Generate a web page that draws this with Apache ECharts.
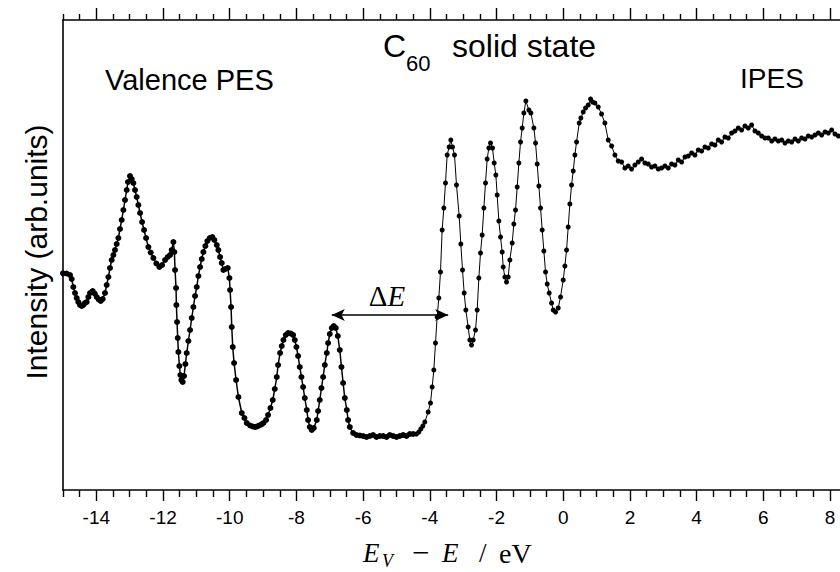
<!DOCTYPE html>
<html>
<head>
<meta charset="utf-8">
<script src="https://cdn.jsdelivr.net/npm/echarts@6/dist/echarts.min.js"></script>
<style>
html,body{margin:0;padding:0;background:#fff;}
#chart{width:840px;height:572px;}
</style>
</head>
<body>
<div id="chart"></div>
<script>
// Valence photoemission (PES) points: [E_V - E (eV), intensity (arb. units)]
const pesData = [
[-15.00,216.7],[-14.89,216.5],[-14.79,215],[-14.74,211],[-14.69,203],[-14.64,197],[-14.59,192],[-14.54,188],[-14.49,185],[-14.44,184],
[-14.39,185],[-14.34,187],[-14.29,188],[-14.24,193],[-14.19,197],[-14.11,199],[-14.05,196.5],[-13.99,193],[-13.93,190.5],[-13.87,189],
[-13.81,191],[-13.74,197],[-13.69,205],[-13.64,213],[-13.59,222],[-13.54,230],[-13.49,235],[-13.44,240],[-13.39,246],[-13.34,252],
[-13.29,261],[-13.24,270],[-13.19,280],[-13.14,290],[-13.09,300],[-13.05,308],[-12.99,314],[-12.94,311],[-12.89,307],[-12.84,300],
[-12.79,293],[-12.74,285],[-12.69,277],[-12.63,268],[-12.57,260],[-12.51,252],[-12.44,243],[-12.37,237.5],[-12.29,232],[-12.20,226.5],
[-12.11,223],[-12.03,225],[-11.94,230],[-11.86,233],[-11.79,235],[-11.74,240],[-11.69,248],[-11.66,238],[-11.64,220],[-11.61,202],
[-11.60,185],[-11.58,168],[-11.56,152],[-11.54,138],[-11.51,124],[-11.48,115],[-11.45,110],[-11.41,108],[-11.37,114],[-11.33,126],
[-11.29,137],[-11.24,149],[-11.19,160],[-11.14,172],[-11.09,183],[-11.04,194],[-10.99,203],[-10.94,214],[-10.89,223],[-10.84,231],
[-10.79,238],[-10.73,244],[-10.67,249],[-10.60,252],[-10.52,253],[-10.46,250],[-10.39,245],[-10.34,240],[-10.29,233],[-10.24,227],
[-10.19,220],[-10.13,221],[-10.06,222],[-10.01,212],[-9.99,200],[-9.96,183],[-9.94,163],[-9.91,143],[-9.87,127],[-9.81,110],
[-9.74,93],[-9.64,77],[-9.56,72],[-9.49,67],[-9.39,64.5],[-9.31,63.5],[-9.24,63],[-9.18,63.5],[-9.12,64.5],[-9.05,65.5],
[-8.99,67],[-8.91,70],[-8.85,75],[-8.78,82],[-8.71,90],[-8.65,101],[-8.59,113],[-8.55,125],[-8.49,137],[-8.44,144],
[-8.39,150],[-8.32,155],[-8.25,157],[-8.17,156.5],[-8.10,155],[-8.05,150],[-8.00,143],[-7.95,134],[-7.90,123],[-7.85,113],
[-7.80,103],[-7.75,92],[-7.69,80],[-7.65,70],[-7.60,63],[-7.54,60],[-7.48,62],[-7.39,70],[-7.35,79],[-7.30,90],
[-7.25,102],[-7.20,113],[-7.15,125],[-7.09,137],[-7.05,147],[-7.00,156],[-6.94,162],[-6.88,164],[-6.82,162],[-6.76,154],
[-6.70,140],[-6.65,123],[-6.60,107],[-6.55,92],[-6.49,80],[-6.45,70],[-6.40,63],[-6.30,57],[-6.20,55],[-6.10,54.5],
[-6.00,54],[-5.90,53],[-5.80,54],[-5.70,55],[-5.60,53],[-5.50,54],[-5.40,54],[-5.30,53],[-5.20,55],[-5.10,54],
[-5.00,53],[-4.90,54],[-4.80,55],[-4.70,54],[-4.60,56],[-4.50,56]
];

// Inverse photoemission (IPES) points: [E_V - E (eV), intensity (arb. units)]
const ipesData = [
[-4.40,56],[-4.33,58],[-4.27,61],[-4.21,64],[-4.15,68],[-4.05,78],[-3.98,87],[-3.93,103],[-3.88,120],[-3.83,147],
[-3.78,173],[-3.73,192],[-3.68,218],[-3.63,260],[-3.58,282],[-3.53,307],[-3.48,335],[-3.42,343],[-3.37,350],[-3.32,343],
[-3.26,335],[-3.20,305],[-3.12,274],[-3.07,246],[-3.02,220],[-2.97,197],[-2.92,180],[-2.85,163],[-2.80,150],[-2.75,145],
[-2.70,150],[-2.63,160],[-2.58,180],[-2.53,212],[-2.48,237],[-2.43,255],[-2.38,282],[-2.33,307],[-2.28,331],[-2.23,342],
[-2.18,347],[-2.12,342],[-2.07,327],[-2.02,315],[-1.98,295],[-1.93,269],[-1.88,253],[-1.83,238],[-1.80,223],[-1.75,213],
[-1.70,208],[-1.65,213],[-1.60,230],[-1.53,247],[-1.48,266],[-1.43,280],[-1.38,303],[-1.33,327],[-1.28,348],[-1.23,362],
[-1.18,377],[-1.12,389],[-1.03,380],[-0.97,377],[-0.88,362],[-0.83,347],[-0.78,326],[-0.73,304],[-0.68,282],[-0.63,260],
[-0.58,239],[-0.53,218],[-0.48,206],[-0.42,197],[-0.35,187],[-0.30,180],[-0.23,178],[-0.15,182],[-0.08,193],[0.00,210],
[0.05,224],[0.10,240],[0.15,263],[0.20,286],[0.25,305],[0.30,319],[0.35,335],[0.40,348],[0.48,367],[0.53,372],
[0.60,378],[0.67,382],[0.75,385],[0.82,391],[0.88,388],[0.95,387],[1.05,383],[1.15,376],[1.25,367],[1.35,350],
[1.45,344],[1.55,335],[1.65,329],[1.75,328],[1.85,322],[1.95,324],[2.05,321],[2.15,325],[2.25,328],[2.35,331],
[2.45,327],[2.55,326],[2.65,323],[2.75,324],[2.85,321],[2.95,322],[3.05,324],[3.15,322],[3.25,326],[3.35,325],
[3.45,330],[3.55,328],[3.65,333],[3.75,334],[3.85,337],[3.95,335],[4.05,340],[4.15,339],[4.25,343],[4.35,342],
[4.45,346],[4.55,345],[4.65,350],[4.75,348],[4.85,353],[4.95,352],[5.05,357],[5.15,359],[5.25,362],[5.35,360],
[5.45,364],[5.55,362],[5.65,365],[5.75,359],[5.85,357],[5.95,354],[6.05,352],[6.15,352],[6.25,349],[6.35,351],
[6.45,349],[6.55,350],[6.65,347],[6.75,349],[6.85,348],[6.95,351],[7.05,349],[7.15,352],[7.25,351],[7.35,354],
[7.45,353],[7.55,355],[7.65,357],[7.75,355],[7.85,358],[7.95,357],[8.05,360],[8.15,356],[8.25,354]
];

// Axis ticks
const xRange = [-15, 8.3];
const yRange = [0, 470];
const majorTicks = [-14,-12,-10,-8,-6,-4,-2,0,2,4,6,8];
const minorTicks = [-15,-14.5,-13.5,-13,-12.5,-11.5,-11,-10.5,-9.5,-9,-8.5,-7.5,-7,-6.5,-5.5,-5,-4.5,-3.5,-3,-2.5,-1.5,-1,-0.5,0.5,1,1.5,2.5,3,3.5,4.5,5,5.5,6.5,7,7.5];

// Energy gap arrow: [from E, to E, intensity level]
const gapArrow = [-6.94, -3.45, 175];

const SANS = 'Liberation Sans, Arial, Helvetica, sans-serif';
const SERIF = 'Liberation Serif, Times New Roman, serif';

function xAxisDef(position, ticks, len, showLabel, showLine) {
  return {
    type: 'value', position: position, min: xRange[0], max: xRange[1],
    axisLine: {show: showLine, onZero: false, lineStyle: {color: '#000', width: 1.6}},
    axisTick: {show: true, inside: false, length: len, customValues: ticks, lineStyle: {color: '#000', width: 1.4}},
    axisLabel: showLabel ? {show: true, customValues: ticks, color: '#000', fontSize: 19, fontFamily: SANS, margin: 18} : {show: false},
    splitLine: {show: false}
  };
}

function txt(x, y, text, font, align) {
  return {type: 'text', x: x, y: y, style: {text: text, font: font, fill: '#000',
    align: align || 'left', verticalAlign: 'middle', textAlign: align || 'left', textVerticalAlign: 'middle'}};
}

const chart = echarts.init(document.getElementById('chart'), null, {renderer: 'svg'});
chart.setOption({
  animation: false,
  backgroundColor: '#fff',
  grid: {left: 63, right: 0, top: 20, bottom: 82, containLabel: false},
  xAxis: [
    xAxisDef('bottom', majorTicks, 11, true, true),
    xAxisDef('bottom', minorTicks, 7, false, false),
    xAxisDef('top', majorTicks, 12, false, true),
    xAxisDef('top', minorTicks, 6, false, false)
  ],
  yAxis: {
    type: 'value', min: yRange[0], max: yRange[1], position: 'left',
    axisLine: {show: true, onZero: false, lineStyle: {color: '#000', width: 1.6}},
    axisTick: {show: false}, axisLabel: {show: false}, splitLine: {show: false}
  },
  series: [
    {
      name: 'Valence PES', type: 'line', data: pesData, xAxisIndex: 0,
      symbol: 'circle', symbolSize: 6, showSymbol: true,
      lineStyle: {color: '#000', width: 1.5}, itemStyle: {color: '#000'},
      markLine: {
        silent: true, symbol: ['arrow', 'arrow'], symbolSize: [9, 13],
        lineStyle: {color: '#000', width: 1.6, type: 'solid'},
        label: {show: false},
        data: [[{coord: [gapArrow[0], gapArrow[2]]}, {coord: [gapArrow[1], gapArrow[2]]}]]
      }
    },
    {
      name: 'IPES', type: 'line', data: ipesData, xAxisIndex: 0,
      symbol: 'circle', symbolSize: 5, showSymbol: true,
      lineStyle: {color: '#000', width: 1}, itemStyle: {color: '#000'}
    }
  ],
  graphic: [
    txt(383, 46, 'C', '32px ' + SANS),
    txt(406, 63, '60', '22px ' + SANS),
    txt(452, 46, 'solid state', '32px ' + SANS),
    txt(105, 80, 'Valence PES', '29px ' + SANS),
    txt(740, 78, 'IPES', '28px ' + SANS),
    {type: 'text', x: 36, y: 252, rotation: Math.PI / 2, style: {text: 'Intensity (arb.units)', font: '30px ' + SANS, fill: '#000', align: 'center', verticalAlign: 'middle', textAlign: 'center', textVerticalAlign: 'middle'}},
    {type: 'text', x: 387, y: 296, style: {text: '{d|Δ}{e|E}', fill: '#000', align: 'center', verticalAlign: 'middle', textAlign: 'center', textVerticalAlign: 'middle',
      rich: {d: {fontFamily: SERIF, fontSize: 29, fill: '#000', color: '#000'}, e: {fontFamily: SERIF, fontSize: 29, fontStyle: 'italic', fill: '#000', color: '#000'}}}},
    txt(363, 553, 'E', 'italic 27px ' + SERIF),
    txt(382, 561, 'V', 'italic 18px ' + SERIF),
    txt(412, 552, '−', '31px ' + SERIF),
    txt(442, 553, 'E', 'italic 27px ' + SERIF),
    txt(479, 553, '/', '27px ' + SERIF),
    txt(499, 553, 'eV', '28px ' + SERIF)
  ]
});
</script>
</body>
</html>
